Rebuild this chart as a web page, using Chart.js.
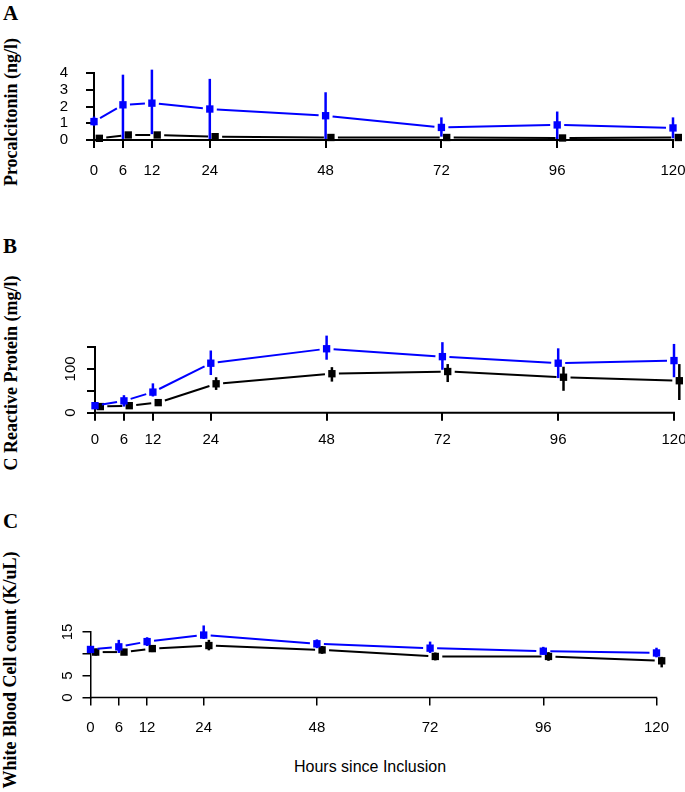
<!DOCTYPE html>
<html>
<head>
<meta charset="utf-8">
<script src="https://cdn.jsdelivr.net/npm/chart.js@4.4.0/dist/chart.umd.min.js"></script>
<style>
body { margin: 0; background: #fff; width: 685px; height: 792px; position: relative; overflow: hidden; }
canvas { position: absolute; left: 0; }
.letter { position: absolute; font: bold 21px "Liberation Serif", "Times New Roman", serif; color: #000; }
.ytitle { position: absolute; font: bold 18px "Liberation Serif", "Times New Roman", serif; color: #000;
  white-space: nowrap; transform: translate(-50%, -50%) rotate(-90deg); }
.xtitle { position: absolute; font: 16px "Liberation Sans", Arial, sans-serif; color: #000;
  white-space: nowrap; transform: translate(-50%, -50%); }
</style>
</head>
<body>
<div class="letter" style="left:3px;top:1px">A</div>
<div class="letter" style="left:3px;top:234px">B</div>
<div class="letter" style="left:3px;top:509px">C</div>
<div class="ytitle" style="left:11px;top:112px">Procalcitonin (ng/l)</div>
<div class="ytitle" style="left:11px;top:373px">C Reactive Protein (mg/l)</div>
<div class="ytitle" style="left:10px;top:670px">White Blood Cell count (K/uL)</div>
<div class="xtitle" style="left:370px;top:767px">Hours since Inclusion</div>

<canvas id="pct" width="685" height="200" style="top:0"></canvas>
<canvas id="crp" width="685" height="230" style="top:230px"></canvas>
<canvas id="wbc" width="685" height="262" style="top:500px"></canvas>

<script>
const hours = [0, 6, 12, 24, 48, 72, 96, 120];

// A - procalcitonin
const pctBlue      = [1.1, 2.1, 2.2, 1.85, 1.45, 0.75, 0.9, 0.72];
const pctBlueLow   = [0.85, 0.0, 0.35, 0.05, 0.0, 0.2, 0.05, 0.1];
const pctBlueHigh  = [1.4, 3.9, 4.2, 3.65, 2.85, 1.35, 1.7, 1.35];
const pctBlack     = [0.1, 0.3, 0.3, 0.2, 0.15, 0.15, 0.12, 0.15];
const pctBlackLow  = [0.0, 0.15, 0.15, 0.05, 0.02, 0.02, 0.0, 0.02];
const pctBlackHigh = [0.25, 0.45, 0.45, 0.35, 0.3, 0.3, 0.25, 0.3];
const pctTicks = [0, 1, 2, 3, 4];

// B - C reactive protein
const crpBlue      = [16, 27, 47, 113, 146, 128, 113, 119];
const crpBlueLow   = [10, 14, 37, 86, 121, 98, 79, 81];
const crpBlueHigh  = [22, 40, 67, 142, 176, 161, 147, 157];
const crpBlack     = [14, 16, 23, 66, 89, 94, 81, 73];
const crpBlackLow  = [8, 12, 16, 52, 71, 70, 50, 29];
const crpBlackHigh = [20, 20, 30, 81, 104, 111, 105, 111];
const crpTicks = [0, 50, 100, 150];
const crpTickLabels = ['0', '', '100', ''];

// C - white blood cells
const wbcBlue      = [11.0, 11.6, 12.8, 14.3, 12.3, 11.3, 10.6, 10.2];
const wbcBlueLow   = [10.3, 10.2, 11.8, 13.4, 11.3, 10.2, 9.8, 9.2];
const wbcBlueHigh  = [11.6, 13.2, 13.8, 16.5, 13.3, 12.8, 11.6, 11.4];
const wbcBlack     = [10.4, 10.4, 11.2, 11.9, 10.9, 9.4, 9.4, 8.4];
const wbcBlackLow  = [9.6, 9.8, 10.4, 10.8, 10.0, 8.5, 8.4, 6.9];
const wbcBlackHigh = [11.2, 11.0, 12.0, 13.2, 11.8, 10.3, 10.4, 9.3];
const wbcTicks = [0, 5, 10, 15];
const wbcTickLabels = ['0', '5', '', '15'];

Chart.defaults.font.family = '"Liberation Sans", Arial, sans-serif';
Chart.defaults.font.size = 15;
Chart.defaults.color = '#000';

const BLACK_SHIFT = 1.1;  // black series sits just right of the blue one
const GAP = 7;            // R type="b" gap around each point
const X_MAX = 122;        // room for the shifted last black point

function points(vals, shift) {
  return vals.map((v, i) => ({ x: hours[i] + shift, y: v }));
}

function segLen(ctx) {
  return Math.hypot(ctx.p1.x - ctx.p0.x, ctx.p1.y - ctx.p0.y);
}

// vertical error bars, drawn with each dataset
const errorBars = {
  id: 'errorBars',
  afterDatasetDraw(chart, args) {
    const ds = chart.data.datasets[args.index];
    if (!ds.low) return;
    const { ctx, scales: { x, y } } = chart;
    ctx.save();
    ctx.strokeStyle = ds.borderColor;
    ctx.lineWidth = 2.5;
    ds.data.forEach((p, i) => {
      const px = x.getPixelForValue(p.x);
      ctx.beginPath();
      ctx.moveTo(px, y.getPixelForValue(ds.low[i]));
      ctx.lineTo(px, y.getPixelForValue(ds.high[i]));
      ctx.stroke();
    });
    ctx.restore();
  }
};

// x axis line only from first to last hour tick, like R's axis()
const hourAxis = {
  id: 'hourAxis',
  afterDraw(chart, args, opts) {
    const { ctx } = chart;
    const x = chart.scales.x;
    ctx.save();
    ctx.strokeStyle = '#000';
    ctx.lineWidth = opts.width || 2;
    ctx.beginPath();
    ctx.moveTo(x.getPixelForValue(hours[0]) - ctx.lineWidth / 2, x.top);
    ctx.lineTo(x.getPixelForValue(hours[hours.length - 1]) + ctx.lineWidth / 2, x.top);
    ctx.stroke();
    ctx.restore();
  }
};

// rotated y tick labels like R's default las=0
const sideLabels = {
  id: 'sideLabels',
  afterDraw(chart, args, opts) {
    if (!opts.labels) return;
    const { ctx } = chart;
    const y = chart.scales.y;
    ctx.save();
    ctx.font = '15px "Liberation Sans", Arial, sans-serif';
    ctx.fillStyle = '#000';
    ctx.textAlign = 'center';
    ctx.textBaseline = 'middle';
    opts.values.forEach((v, i) => {
      if (!opts.labels[i]) return;
      ctx.save();
      ctx.translate(opts.x, y.getPixelForValue(v));
      ctx.rotate(-Math.PI / 2);
      ctx.fillText(opts.labels[i], 0, 0);
      ctx.restore();
    });
    ctx.restore();
  }
};

function series(vals, low, high, color, shift) {
  return {
    data: points(vals, shift),
    low: low,
    high: high,
    borderColor: color,
    backgroundColor: color,
    borderWidth: 2,
    pointStyle: 'rect',
    pointRadius: 5.2,
    pointBorderWidth: 0,
    tension: 0,
    clip: false,
    segment: {
      borderDash: ctx => [Math.max(segLen(ctx) - 2 * GAP, 0), 10000],
      borderDashOffset: ctx => Math.max(segLen(ctx) - 2 * GAP, 0) + 10000 - GAP
    }
  };
}

function makePanel(id, p) {
  const tickMarks = { drawOnChartArea: false, drawTicks: true, tickLength: 8, color: '#000', lineWidth: p.axisWidth };
  return new Chart(document.getElementById(id), {
    type: 'line',
    data: {
      datasets: [
        series(p.blue, p.blueLow, p.blueHigh, '#0000ff', 0),
        series(p.black, p.blackLow, p.blackHigh, '#000000', BLACK_SHIFT)
      ]
    },
    options: {
      responsive: false,
      animation: false,
      layout: { autoPadding: false, padding: { left: 0, right: p.padRight, top: p.padTop, bottom: 0 } },
      plugins: {
        legend: { display: false },
        tooltip: { enabled: false },
        sideLabels: p.side || {},
        hourAxis: { width: p.axisWidth }
      },
      scales: {
        x: {
          type: 'linear', min: 0, max: X_MAX,
          afterBuildTicks: s => { s.ticks = hours.map(v => ({ value: v })); },
          afterFit: s => { s.height = p.xHeight; s.paddingLeft = 0; s.paddingRight = 0; },
          grid: tickMarks,
          border: { display: false },
          ticks: { padding: p.xPad, maxRotation: 0, autoSkip: false }
        },
        y: {
          min: 0, max: p.yTicks[p.yTicks.length - 1],
          afterBuildTicks: s => { s.ticks = p.yTicks.map(v => ({ value: v })); },
          afterFit: s => { s.width = p.yWidth; s.paddingTop = 0; s.paddingBottom = 0; },
          grid: tickMarks,
          border: { color: '#000', width: p.axisWidth },
          ticks: { display: !p.side, padding: 18, autoSkip: false }
        }
      }
    },
    plugins: [errorBars, hourAxis, sideLabels]
  });
}

makePanel('pct', {
  blue: pctBlue, blueLow: pctBlueLow, blueHigh: pctBlueHigh,
  black: pctBlack, blackLow: pctBlackLow, blackHigh: pctBlackHigh,
  yTicks: pctTicks,
  yWidth: 94, padRight: 2.35, padTop: 73, xHeight: 60, xPad: 14, axisWidth: 2
});

makePanel('crp', {
  blue: crpBlue, blueLow: crpBlueLow, blueHigh: crpBlueHigh,
  black: crpBlack, blackLow: crpBlackLow, blackHigh: crpBlackHigh,
  yTicks: crpTicks,
  side: { values: crpTicks, labels: crpTickLabels, x: 71 },
  yWidth: 95, padRight: 1.35, padTop: 117, xHeight: 47.3, xPad: 10, axisWidth: 2
});

makePanel('wbc', {
  blue: wbcBlue, blueLow: wbcBlueLow, blueHigh: wbcBlueHigh,
  black: wbcBlack, blackLow: wbcBlackLow, blackHigh: wbcBlackHigh,
  yTicks: wbcTicks,
  side: { values: wbcTicks, labels: wbcTickLabels, x: 68 },
  yWidth: 90.5, padRight: 19.07, padTop: 132, xHeight: 64.5, xPad: 13.5, axisWidth: 1.5
});
</script>
</body>
</html>
